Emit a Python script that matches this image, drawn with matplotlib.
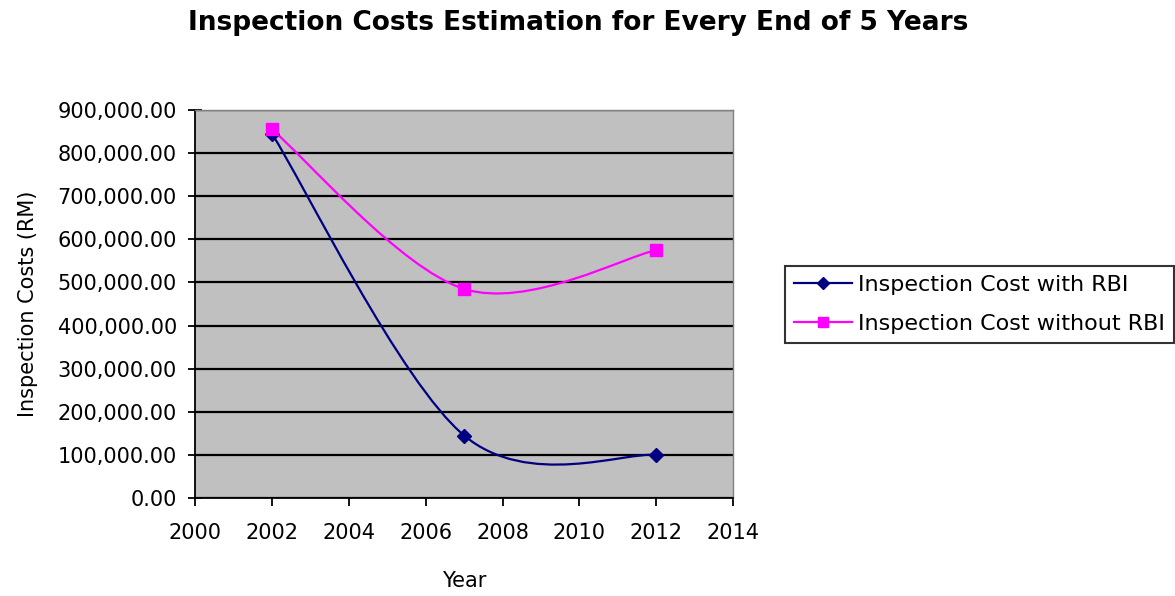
import numpy as np
import matplotlib.pyplot as plt
from matplotlib.path import Path
from matplotlib.patches import PathPatch
from matplotlib.lines import Line2D
from matplotlib.ticker import FuncFormatter

plt.rcParams['font.family'] = ['DejaVu Sans']

years = [2002, 2007, 2012]
cost_with_rbi = [845000, 145000, 100000]
cost_without_rbi = [855000, 485000, 575000]
series_labels = ['Inspection Cost with RBI', 'Inspection Cost without RBI']


def smooth_path(xs, ys):
    # Excel-style smoothed line: cubic Bezier segments, Catmull-Rom tangents
    pts = np.column_stack([xs, ys]).astype(float)
    n = len(pts)
    verts = [pts[0]]
    codes = [Path.MOVETO]
    for i in range(n - 1):
        p_prev = pts[i - 1] if i > 0 else pts[i]
        p_next = pts[i + 2] if i + 2 < n else pts[i + 1]
        c1 = pts[i] + (pts[i + 1] - p_prev) / 6.0
        c2 = pts[i + 1] - (p_next - pts[i]) / 6.0
        verts += [c1, c2, pts[i + 1]]
        codes += [Path.CURVE4] * 3
    return Path(verts, codes)


fig = plt.figure(figsize=(11.75, 5.96), dpi=100)
ax = fig.add_axes([0.166, 0.1644, 0.458, 0.651])
ax.set_facecolor('#c0c0c0')

ax.set_xlim(2000, 2014)
ax.set_ylim(0, 900000)
ax.set_xticks(range(2000, 2015, 2))
ax.set_yticks(range(0, 900001, 100000))
ax.yaxis.set_major_formatter(FuncFormatter(lambda v, p: f'{v:,.2f}'))
ax.grid(axis='y', color='black', linewidth=1.6)
ax.set_axisbelow(True)

for sp in ['top', 'right']:
    ax.spines[sp].set_color('#808080')
    ax.spines[sp].set_linewidth(1.0)
for sp in ['left', 'bottom']:
    ax.spines[sp].set_color('black')
    ax.spines[sp].set_linewidth(1.3)

ax.tick_params(axis='y', direction='inout', length=10, width=1.3, labelsize=15, pad=8)
ax.tick_params(axis='x', direction='out', length=6, width=1.3, labelsize=15, pad=12)

series = [
    (cost_with_rbi, '#000080', 'D', 7),
    (cost_without_rbi, '#ff00ff', 's', 8),
]
handles = []
for (vals, color, marker, ms), label in zip(series, series_labels):
    patch = PathPatch(smooth_path(years, vals), facecolor='none',
                      edgecolor=color, linewidth=1.6, zorder=3)
    ax.add_patch(patch)
    ax.plot(years, vals, linestyle='none', marker=marker, markersize=ms,
            color=color, zorder=4)
    handles.append(Line2D([0], [0], color=color, linewidth=1.6,
                          marker=marker, markersize=ms - 1, label=label))

ax.set_xlabel('Year', fontsize=15, labelpad=20)
ax.set_ylabel('Inspection Costs (RM)', fontsize=15, labelpad=14)

fig.text(0.492, 0.962, 'Inspection Costs Estimation for Every End of 5 Years',
         ha='center', va='center', fontsize=19, fontweight='bold')

leg = fig.legend(handles=handles, loc='center left',
                 bbox_to_anchor=(0.668, 0.489), fontsize=16, frameon=True,
                 fancybox=False, edgecolor='black', handlelength=2.6,
                 borderpad=0.4, labelspacing=0.85, handletextpad=0.3,
                 borderaxespad=0, handleheight=0.7)
leg.get_frame().set_linewidth(1.5)

fig.savefig('out.png', dpi=100)
